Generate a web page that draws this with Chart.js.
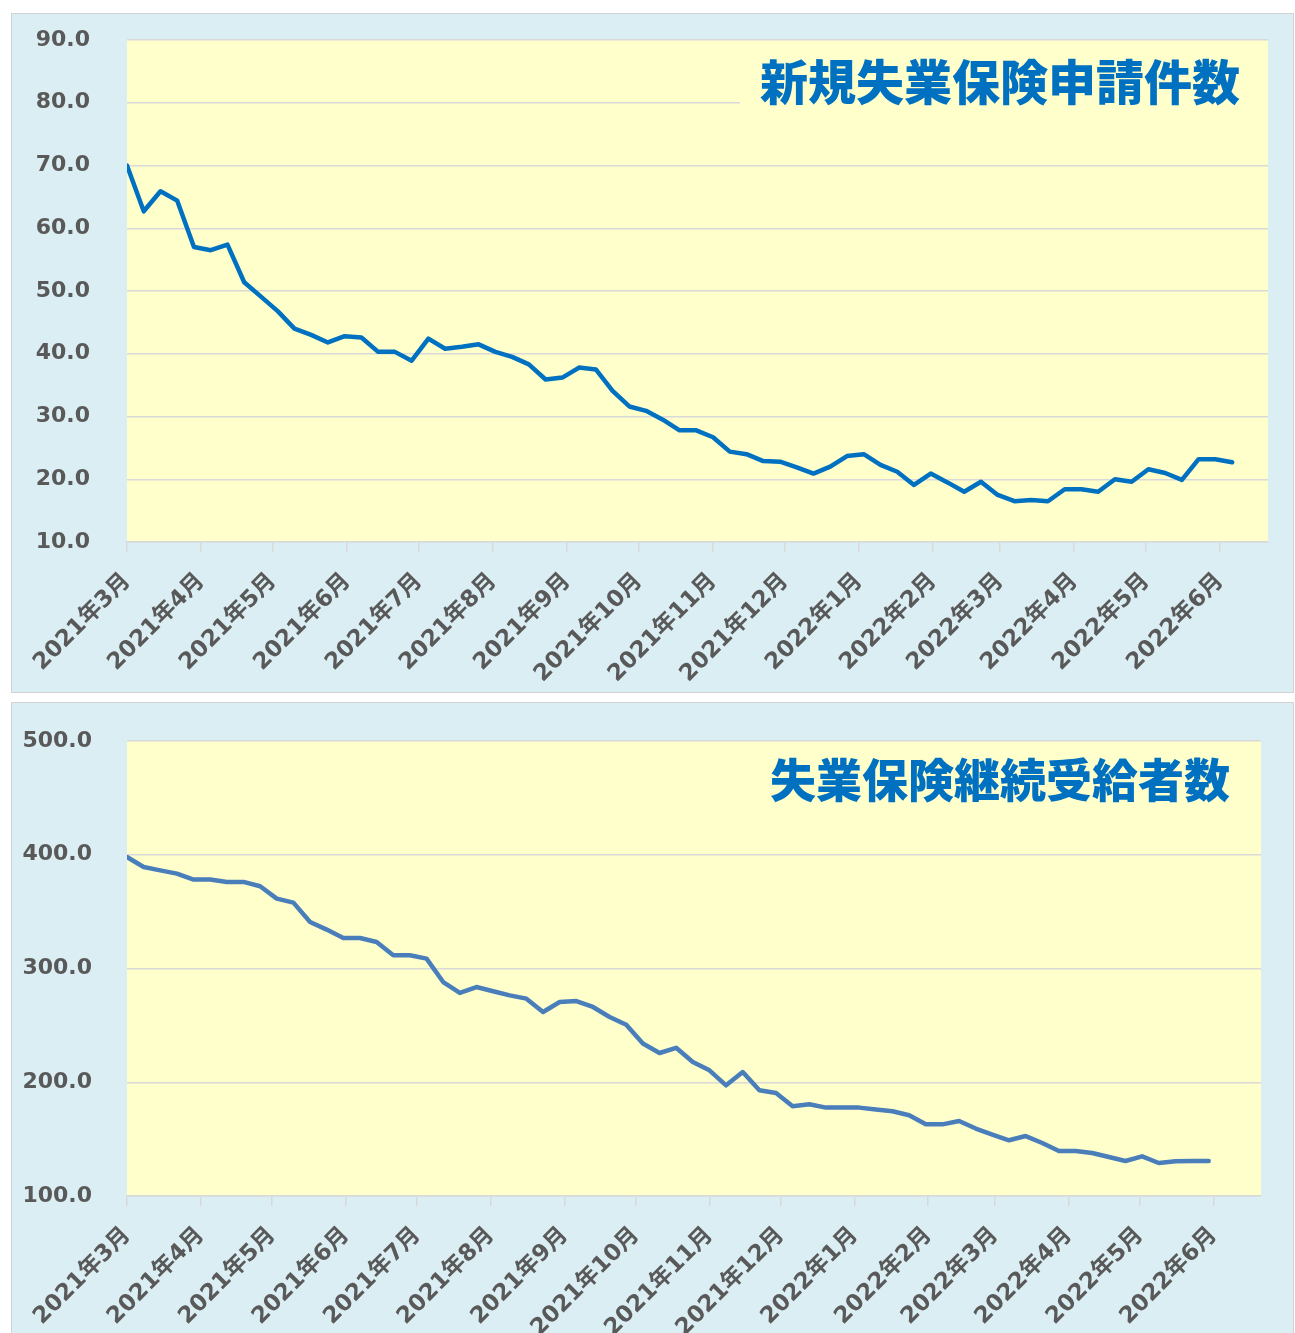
<!DOCTYPE html>
<html>
<head>
<meta charset="utf-8">
<script src="https://cdn.jsdelivr.net/npm/chart.js@4.4.1/dist/chart.umd.min.js"></script>
<style>
  body { margin: 0; background: #ffffff; width: 1295px; height: 1333px; overflow: hidden; position: relative; }
  .panel { position: absolute; left: 11px; width: 1281px; background: #dbeef3; border: 1px solid #d2d2d2; }
  #panelTop { top: 13px; height: 678px; }
  #panelBottom { top: 702px; height: 640px; }
  canvas { position: absolute; left: 11px; }
  #newClaimsChart { top: 13px; }
  #continuingChart { top: 703px; }
</style>
</head>
<body>
<div class="panel" id="panelTop"></div>
<div class="panel" id="panelBottom"></div>
<canvas id="newClaimsChart" width="1283" height="680"></canvas>
<canvas id="continuingChart" width="1283" height="630"></canvas>
<script>
// Weekly data, first week starting 2021-03-01
const firstWeek = "2021-03-01";

// 新規失業保険申請件数 (万件)
const newClaims = [
  70.0, 62.7, 65.9, 64.4, 57.0, 56.5, 57.4, 51.4, 49.1, 46.8,
  44.0, 43.0, 41.8, 42.8, 42.6, 40.3, 40.3, 38.9, 42.4, 40.8,
  41.1, 41.5, 40.3, 39.5, 38.3, 35.9, 36.2, 37.8, 37.5, 34.1,
  31.6, 30.9, 29.5, 27.8, 27.8, 26.7, 24.4, 24.0, 22.9, 22.8,
  21.9, 20.9, 22.0, 23.7, 24.0, 22.3, 21.2, 19.1, 20.9, 19.5,
  18.0, 19.6, 17.5, 16.5, 16.7, 16.5, 18.4, 18.4, 18.0, 20.0,
  19.6, 21.6, 21.0, 19.9, 23.2, 23.2, 22.7
];

// 失業保険継続受給者数 (万人)
const continuingClaims = [
  398.0, 389.2, 386.3, 383.4, 378.2, 378.2, 376.1, 376.1, 372.3, 361.4,
  357.9, 340.9, 334.2, 326.8, 326.8, 323.3, 311.6, 311.6, 308.7, 288.1,
  278.5, 283.7, 280.0, 276.4, 273.5, 261.8, 270.5, 271.4, 266.2, 257.4,
  250.5, 234.0, 225.7, 230.3, 217.8, 210.5, 197.3, 209.0, 192.9, 190.5,
  178.9, 180.6, 177.7, 177.7, 177.7, 176.0, 174.5, 171.0, 163.0, 163.0,
  165.9, 159.3, 154.0, 149.0, 152.7, 146.6, 139.6, 139.6, 137.8, 134.3,
  130.8, 134.9, 129.0, 130.5, 130.8, 130.8
];

// Month tick labels (date axis)
const monthStarts = [
  "2021-03-01", "2021-04-01", "2021-05-01", "2021-06-01", "2021-07-01", "2021-08-01",
  "2021-09-01", "2021-10-01", "2021-11-01", "2021-12-01", "2022-01-01", "2022-02-01",
  "2022-03-01", "2022-04-01", "2022-05-01", "2022-06-01"
];
const monthLabels = [
  "2021年3月", "2021年4月", "2021年5月", "2021年6月", "2021年7月", "2021年8月",
  "2021年9月", "2021年10月", "2021年11月", "2021年12月", "2022年1月", "2022年2月",
  "2022年3月", "2022年4月", "2022年5月", "2022年6月"
];
const axisEnd = "2022-06-21";

const DAY = 86400000;
function dayOffset(dateStr) {
  return Math.round((Date.parse(dateStr) - Date.parse(firstWeek)) / DAY);
}
const monthDays = monthStarts.map(dayOffset);

function toPoints(values) {
  return values.map(function (v, i) { return { x: i * 7, y: v }; });
}

// Yellow plot area + title box drawn inside the chart area
const plotDecor = {
  id: "plotDecor",
  beforeDraw: function (chart) {
    const a = chart.chartArea;
    const ctx = chart.ctx;
    ctx.save();
    ctx.fillStyle = "#ffffcc";
    ctx.fillRect(a.left, a.top, a.right - a.left, a.bottom - a.top);
    ctx.restore();
  },
  beforeDatasetsDraw: function (chart, args, opts) {
    const a = chart.chartArea;
    const ctx = chart.ctx;
    ctx.save();
    ctx.fillStyle = "#ffffcc";
    ctx.fillRect(opts.boxLeft, a.top + 1, a.right - opts.boxLeft, opts.boxHeight);
    ctx.font = "900 " + opts.size + "px 'Noto Sans CJK JP'";
    ctx.fillStyle = "#0070c0";
    ctx.textAlign = "right";
    ctx.textBaseline = "middle";
    ctx.fillText(opts.text, a.right - opts.rightGap, a.top + opts.centerGap);
    ctx.restore();
  }
};

function makeChart(canvasId, values, color, yMin, yMax, yStep, layout, title) {
  const ctx = document.getElementById(canvasId);
  return new Chart(ctx.getContext("2d"), {
    type: "line",
    data: {
      datasets: [
        {
          data: toPoints(values),
          borderColor: color,
          borderWidth: 4.5,
          borderJoinStyle: "round",
          borderCapStyle: "round",
          pointRadius: 0,
          tension: 0,
          fill: false,
        },
      ],
    },
    options: {
      responsive: false,
      animation: false,
      layout: {
        padding: { left: 0, right: layout.right, top: layout.top, bottom: 0 },
      },
      plugins: {
        legend: { display: false },
        tooltip: { enabled: false },
        plotDecor: title,
      },
      scales: {
        x: {
          type: "linear",
          min: 0,
          max: dayOffset(axisEnd),
          afterBuildTicks: function (scale) {
            scale.ticks = monthDays.map(function (d) { return { value: d }; });
          },
          afterFit: function (scale) {
            scale.height = layout.xHeight;
            scale.paddingLeft = 0;
            scale.paddingRight = 0;
            scale.paddingTop = 0;
            scale.paddingBottom = 0;
          },
          ticks: {
            autoSkip: false,
            maxRotation: 45,
            minRotation: 45,
            padding: 16,
            color: "#595959",
            font: { family: "'DejaVu Sans', 'Noto Sans CJK JP'", size: 23, weight: "bold" },
            callback: function (value) {
              const i = monthDays.indexOf(value);
              return i >= 0 ? monthLabels[i] : "";
            },
          },
          grid: {
            drawOnChartArea: false,
            drawTicks: true,
            tickLength: 10,
            color: "#d9d9d9",
            lineWidth: 1.5,
          },
          border: { display: true, color: "#d9d9d9", width: 1.5 },
        },
        y: {
          min: yMin,
          max: yMax,
          afterFit: function (scale) {
            scale.width = 116;
            scale.paddingTop = 0;
            scale.paddingBottom = 0;
            scale.paddingLeft = 0;
            scale.paddingRight = 0;
          },
          ticks: {
            stepSize: yStep,
            padding: layout.yPad,
            color: "#595959",
            font: { family: "'DejaVu Sans'", size: 22, weight: "bold" },
            callback: function (value) { return value.toFixed(1); },
          },
          grid: {
            drawTicks: false,
            color: "#d9d9d9",
            lineWidth: 1.5,
          },
          border: { display: false },
        },
      },
    },
    plugins: [plotDecor],
  });
}

document.addEventListener("DOMContentLoaded", function () {
  makeChart(
    "newClaimsChart", newClaims, "#0070c0", 10, 90, 10,
    { right: 26, top: 27, xHeight: 151, yPad: 37 },
    { text: "新規失業保険申請件数", size: 48, rightGap: 28, centerGap: 42, boxLeft: 729, boxHeight: 70 }
  );
  makeChart(
    "continuingChart", continuingClaims, "#4a7ebb", 100, 500, 100,
    { right: 33, top: 38, xHeight: 137, yPad: 35 },
    { text: "失業保険継続受給者数", size: 46, rightGap: 31, centerGap: 39, boxLeft: 740, boxHeight: 70 }
  );
});
</script>
</body>
</html>
